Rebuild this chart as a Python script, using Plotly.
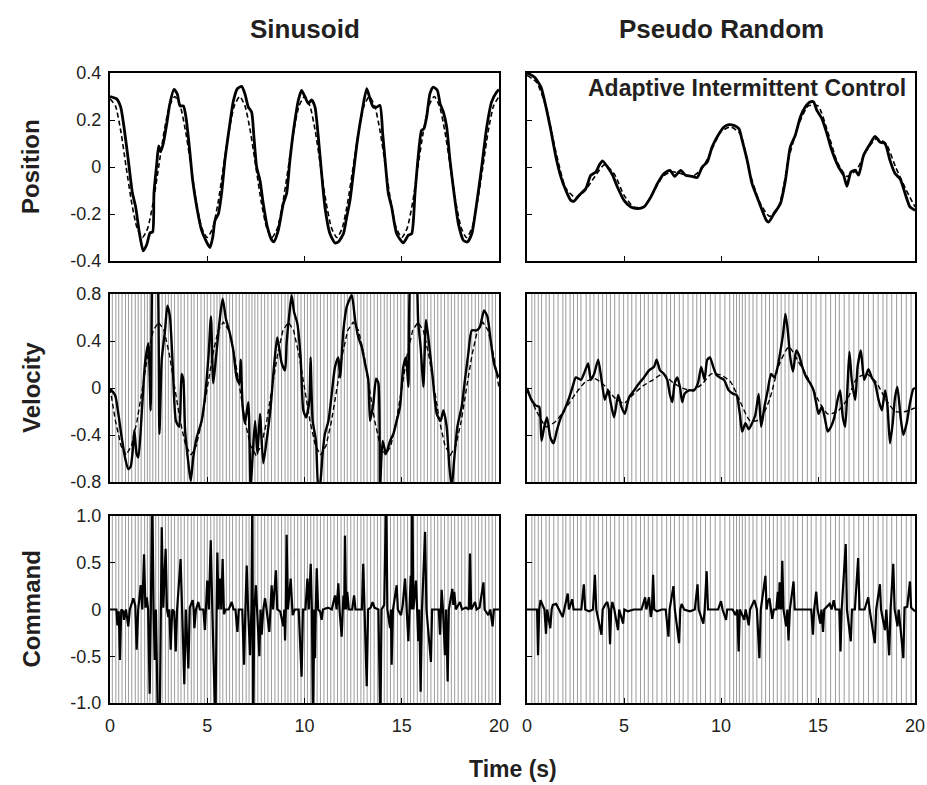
import plotly.graph_objects as go

# ---------------- DATA ----------------
time_ticks = [0, 5, 10, 15, 20]
pos_ticks = [0.4, 0.2, 0, -0.2, -0.4]
pos_ticktext = ["0.4", "0.2", "0", "-0.2", "-0.4"]
vel_ticks = [0.8, 0.4, 0, -0.4, -0.8]
vel_ticktext = ["0.8", "0.4", "0", "-0.4", "-0.8"]
cmd_ticks = [1.0, 0.5, 0, -0.5, -1.0]
cmd_ticktext = ["1.0", "0.5", "0", "-0.5", "-1.0"]

column_titles = ["Sinusoid", "Pseudo Random"]
row_titles = ["Position", "Velocity", "Command"]

# Position, sinusoid: actual (solid)
pos_sin_actual = [
    (0, 0.30), (0.34, 0.29), (0.55, 0.255), (0.72, 0.17), (0.94, 0.03), (1.15, -0.11), (1.32, -0.17),
    (1.51, -0.28), (1.71, -0.357), (1.89, -0.33), (2.06, -0.28), (2.19, -0.277), (2.26, -0.11),
    (2.40, 0.01), (2.50, 0.09), (2.60, 0.065), (2.74, 0.10), (2.91, 0.18), (3.08, 0.27), (3.29, 0.33),
    (3.46, 0.31), (3.60, 0.26), (3.77, 0.26), (3.91, 0.21), (4.08, 0.085), (4.25, -0.057), (4.46, -0.17),
    (4.71, -0.27), (4.97, -0.32), (5.14, -0.343), (5.28, -0.30), (5.40, -0.227), (5.57, -0.20),
    (5.74, -0.11), (5.91, 0.03), (6.14, 0.17), (6.34, 0.28), (6.55, 0.333), (6.77, 0.343), (6.94, 0.31),
    (7.11, 0.255), (7.28, 0.234), (7.40, 0.128), (7.54, 0.0), (7.71, -0.057), (7.88, -0.156),
    (8.09, -0.255), (8.31, -0.31), (8.43, -0.318), (8.65, -0.27), (8.91, -0.156), (9.08, -0.113),
    (9.25, 0.028), (9.46, 0.17), (9.68, 0.283), (9.85, 0.326), (10.03, 0.298), (10.2, 0.27),
    (10.37, 0.286), (10.54, 0.255), (10.71, 0.128), (10.88, -0.028), (11.05, -0.17), (11.31, -0.284),
    (11.57, -0.323), (11.74, -0.319), (12.0, -0.284), (12.17, -0.213), (12.34, -0.142), (12.51, -0.028),
    (12.72, 0.113), (12.94, 0.227), (13.2, 0.333), (13.37, 0.29), (13.54, 0.255), (13.71, 0.255),
    (13.88, 0.262), (14.02, 0.142), (14.19, -0.014), (14.31, -0.113), (14.48, -0.17), (14.74, -0.284),
    (15.08, -0.323), (15.34, -0.29), (15.51, -0.284), (15.68, -0.113), (15.86, 0.057), (16.02, 0.156),
    (16.14, 0.163), (16.28, 0.213), (16.45, 0.312), (16.62, 0.34), (16.83, 0.326), (16.97, 0.27),
    (17.14, 0.234), (17.31, 0.17), (17.48, 0.028), (17.69, -0.113), (17.91, -0.241), (18.17, -0.312),
    (18.37, -0.319), (18.6, -0.284), (18.85, -0.156), (19.11, 0.0), (19.37, 0.17), (19.62, 0.277),
    (19.88, 0.319), (20.0, 0.33),
]

# Position, sinusoid: target (dashed)
pos_sin_target = [
    (0, 0.29), (0.28, 0.26), (0.56, 0.15), (0.83, 0.0), (1.11, -0.15), (1.39, -0.26), (1.67, -0.30),
    (1.94, -0.26), (2.22, -0.15), (2.5, 0.0), (2.78, 0.15), (3.06, 0.26), (3.33, 0.30), (3.61, 0.26),
    (3.89, 0.15), (4.17, 0.0), (4.44, -0.15), (4.72, -0.26), (5.0, -0.30), (5.28, -0.26), (5.56, -0.15),
    (5.83, 0.0), (6.11, 0.15), (6.39, 0.26), (6.67, 0.30), (6.94, 0.26), (7.22, 0.15), (7.5, 0.0),
    (7.78, -0.15), (8.06, -0.26), (8.33, -0.30), (8.61, -0.26), (8.89, -0.15), (9.17, 0.0), (9.44, 0.15),
    (9.72, 0.26), (10.0, 0.30), (10.28, 0.26), (10.56, 0.15), (10.83, 0.0), (11.11, -0.15),
    (11.39, -0.26), (11.67, -0.30), (11.94, -0.26), (12.22, -0.15), (12.5, 0.0), (12.78, 0.15),
    (13.06, 0.26), (13.33, 0.30), (13.61, 0.26), (13.89, 0.15), (14.17, 0.0), (14.44, -0.15),
    (14.72, -0.26), (15.0, -0.30), (15.28, -0.26), (15.56, -0.15), (15.83, 0.0), (16.11, 0.15),
    (16.39, 0.26), (16.67, 0.30), (16.94, 0.26), (17.22, 0.15), (17.5, 0.0), (17.78, -0.15),
    (18.06, -0.26), (18.33, -0.30), (18.61, -0.26), (18.89, -0.15), (19.17, 0.0), (19.44, 0.15),
    (19.72, 0.26), (20.0, 0.30),
]

# Position, pseudo random: actual (solid)
pos_pr_actual = [
    (0, 0.40), (0.38, 0.383), (0.72, 0.34), (0.98, 0.255), (1.23, 0.156), (1.49, 0.043), (1.75, -0.043),
    (2.0, -0.099), (2.26, -0.142), (2.43, -0.145), (2.69, -0.12), (3.03, -0.092), (3.29, -0.035),
    (3.55, -0.021), (3.72, 0.007), (3.89, 0.026), (4.15, 0.0), (4.41, -0.035), (4.66, -0.085),
    (5.0, -0.142), (5.35, -0.17), (5.69, -0.177), (6.03, -0.17), (6.38, -0.128), (6.72, -0.071),
    (7.06, -0.028), (7.37, -0.014), (7.61, -0.04), (7.92, -0.014), (8.17, -0.035), (8.52, -0.04),
    (8.77, -0.045), (9.03, 0.0), (9.29, 0.021), (9.54, 0.085), (9.8, 0.128), (10.15, 0.17), (10.4, 0.18),
    (10.66, 0.177), (10.92, 0.163), (11.09, 0.113), (11.35, 0.028), (11.6, -0.071), (11.86, -0.128),
    (12.12, -0.184), (12.34, -0.227), (12.46, -0.234), (12.72, -0.2), (13.06, -0.156), (13.32, -0.057),
    (13.57, 0.085), (13.83, 0.135), (14.09, 0.213), (14.34, 0.255), (14.6, 0.277), (14.77, 0.277),
    (14.94, 0.241), (15.2, 0.206), (15.46, 0.142), (15.71, 0.071), (16.06, 0.0), (16.32, -0.035),
    (16.49, -0.082), (16.7, -0.021), (16.92, -0.014), (17.09, -0.035), (17.35, 0.05), (17.69, 0.099),
    (17.94, 0.13), (18.2, 0.106), (18.46, 0.099), (18.71, 0.028), (18.97, -0.028), (19.23, -0.05),
    (19.49, -0.113), (19.74, -0.17), (20.0, -0.184),
]

# Position, pseudo random: target (dashed)
pos_pr_target = [
    (0, 0.39), (0.5, 0.36), (1.0, 0.25), (1.5, 0.06), (2.0, -0.09), (2.5, -0.13), (3.0, -0.10),
    (3.5, -0.04), (4.0, 0.01), (4.5, -0.03), (5.0, -0.12), (5.5, -0.17), (6.0, -0.17), (6.5, -0.11),
    (7.0, -0.04), (7.5, -0.02), (8.0, -0.03), (8.5, -0.04), (9.0, -0.01), (9.5, 0.07), (10.0, 0.15),
    (10.5, 0.17), (11.0, 0.14), (11.5, -0.03), (12.0, -0.15), (12.5, -0.21), (13.0, -0.16), (13.5, 0.04),
    (14.0, 0.18), (14.5, 0.26), (15.0, 0.26), (15.5, 0.15), (16.0, 0.02), (16.5, -0.04), (17.0, -0.01),
    (17.5, 0.07), (18.0, 0.12), (18.5, 0.10), (19.0, 0.0), (19.5, -0.09), (20.0, -0.17),
]

# Velocity, sinusoid: actual (solid)
vel_sin_actual = [
    (0, -0.005), (0.26, -0.06), (0.43, -0.22), (0.6, -0.42), (0.77, -0.59), (0.94, -0.69), (1.06, -0.67),
    (1.17, -0.53), (1.25, -0.36), (1.37, -0.56), (1.46, -0.59), (1.63, -0.22), (1.8, 0.21), (1.97, 0.38),
    (2.09, -0.19), (2.19, 1.1), (2.28, 1.2), (2.43, 1.1), (2.54, -0.39), (2.66, 0.24), (2.83, 0.49),
    (2.95, 0.70), (3.08, 0.61), (3.22, 0.21), (3.39, -0.28), (3.56, -0.33), (3.68, 0.12), (3.77, 0.07),
    (3.86, -0.36), (4.03, -0.64), (4.15, -0.79), (4.28, -0.59), (4.46, -0.42), (4.71, -0.28),
    (4.88, -0.08), (5.06, 0.26), (5.19, 0.61), (5.31, 0.04), (5.45, 0.26), (5.62, 0.55), (5.79, 0.76),
    (5.96, 0.59), (6.17, 0.46), (6.34, 0.32), (6.51, 0.09), (6.65, 0.04), (6.72, 0.24), (6.82, -0.16),
    (6.94, -0.30), (7.11, -0.12), (7.23, -0.85), (7.34, -0.56), (7.46, -0.28), (7.58, -0.56),
    (7.71, -0.22), (7.88, -0.64), (8.05, -0.45), (8.26, -0.16), (8.43, 0.18), (8.6, 0.43), (8.83, 0.21),
    (9.0, 0.15), (9.08, 0.38), (9.22, 0.63), (9.34, 0.79), (9.46, 0.65), (9.63, 0.55), (9.8, 0.26),
    (9.94, -0.19), (10.08, -0.25), (10.25, -0.11), (10.31, 0.26), (10.42, -0.28), (10.59, -0.45),
    (10.71, -0.85), (10.8, -0.82), (10.93, -0.56), (11.05, -0.39), (11.23, -0.28), (11.4, -0.05),
    (11.57, 0.18), (11.74, 0.26), (11.83, 0.09), (12.0, 0.49), (12.17, 0.69), (12.43, 0.79),
    (12.6, 0.58), (12.77, 0.43), (12.94, 0.35), (13.11, 0.21), (13.28, 0.07), (13.37, -0.28),
    (13.54, -0.13), (13.68, 0.08), (13.8, 0.04), (13.88, -0.85), (14.02, -0.45), (14.19, -0.56),
    (14.4, -0.45), (14.57, -0.39), (14.74, -0.28), (14.91, -0.16), (15.08, 0.18), (15.22, 0.26),
    (15.34, 0.01), (15.51, 1.1), (15.68, 1.1), (15.85, 0.55), (15.97, 0.35), (16.11, 0.01), (16.25, 0.58),
    (16.42, 0.35), (16.59, 0.09), (16.8, -0.22), (17.0, -0.28), (17.14, -0.19), (17.31, -0.33),
    (17.45, -0.67), (17.57, -0.85), (17.69, -0.62), (17.86, -0.33), (18.08, -0.16), (18.25, 0.07),
    (18.42, 0.29), (18.6, 0.49), (18.85, 0.49), (19.02, 0.52), (19.23, 0.66), (19.4, 0.61), (19.57, 0.41),
    (19.74, 0.21), (19.97, 0.09),
]

# Velocity, sinusoid: target (dashed)
vel_sin_target = [
    (0, 0.0), (0.28, -0.28), (0.56, -0.49), (0.83, -0.57), (1.11, -0.49), (1.39, -0.28), (1.67, 0.0),
    (1.94, 0.28), (2.22, 0.49), (2.5, 0.56), (2.78, 0.49), (3.06, 0.28), (3.33, 0.0), (3.61, -0.28),
    (3.89, -0.49), (4.17, -0.57), (4.44, -0.49), (4.72, -0.28), (5.0, 0.0), (5.28, 0.28), (5.56, 0.49),
    (5.83, 0.56), (6.11, 0.49), (6.39, 0.28), (6.67, 0.0), (6.94, -0.28), (7.22, -0.49), (7.5, -0.57),
    (7.78, -0.49), (8.06, -0.28), (8.33, 0.0), (8.61, 0.28), (8.89, 0.49), (9.17, 0.56), (9.44, 0.49),
    (9.72, 0.28), (10.0, 0.0), (10.28, -0.28), (10.56, -0.49), (10.83, -0.57), (11.11, -0.49),
    (11.39, -0.28), (11.67, 0.0), (11.94, 0.28), (12.22, 0.49), (12.5, 0.56), (12.78, 0.49),
    (13.06, 0.28), (13.33, 0.0), (13.61, -0.28), (13.89, -0.49), (14.17, -0.57), (14.44, -0.49),
    (14.72, -0.28), (15.0, 0.0), (15.28, 0.28), (15.56, 0.49), (15.83, 0.56), (16.11, 0.49),
    (16.39, 0.28), (16.67, 0.0), (16.94, -0.28), (17.22, -0.49), (17.5, -0.57), (17.78, -0.49),
    (18.06, -0.28), (18.33, 0.0), (18.61, 0.28), (18.89, 0.49), (19.17, 0.56), (19.44, 0.49),
    (19.72, 0.28), (20.0, 0.0),
]

# Velocity, pseudo random: actual (solid)
vel_pr_actual = [
    (0, 0.0), (0.2, -0.09), (0.46, -0.15), (0.63, -0.16), (0.75, -0.45), (0.89, -0.33), (1.03, -0.25),
    (1.2, -0.42), (1.37, -0.47), (1.54, -0.36), (1.75, -0.25), (1.92, -0.19), (2.18, -0.08), (2.35, 0.01),
    (2.52, 0.09), (2.78, 0.07), (2.98, 0.14), (3.15, 0.21), (3.29, 0.07), (3.46, 0.12), (3.67, 0.24),
    (3.84, 0.07), (4.01, -0.1), (4.18, -0.02), (4.32, -0.13), (4.49, -0.25), (4.7, -0.06), (4.87, -0.16),
    (5.04, -0.22), (5.26, -0.08), (5.52, -0.02), (5.78, 0.04), (6.03, 0.09), (6.29, 0.15), (6.55, 0.18),
    (6.68, 0.24), (6.86, 0.15), (7.06, 0.12), (7.23, 0.07), (7.37, -0.06), (7.49, -0.12), (7.61, 0.04),
    (7.75, 0.09), (7.88, 0.01), (8.0, -0.12), (8.12, -0.05), (8.35, -0.02), (8.6, -0.02), (8.81, 0.04),
    (8.98, 0.18), (9.15, 0.07), (9.29, 0.24), (9.43, 0.26), (9.6, 0.18), (9.77, 0.11), (9.94, 0.09),
    (10.15, 0.07), (10.4, -0.02), (10.63, -0.05), (10.8, -0.06), (10.97, -0.22), (11.09, -0.37),
    (11.26, -0.30), (11.43, -0.35), (11.6, -0.30), (11.77, -0.23), (11.94, -0.05), (12.07, -0.33),
    (12.24, -0.16), (12.41, -0.02), (12.58, 0.12), (12.75, 0.09), (12.92, 0.18), (13.06, 0.31),
    (13.2, 0.46), (13.32, 0.63), (13.44, 0.49), (13.57, 0.26), (13.71, 0.14), (13.88, 0.32), (14.02, 0.28),
    (14.19, 0.18), (14.4, 0.09), (14.6, 0.04), (14.77, -0.02), (14.91, -0.13), (15.03, -0.22),
    (15.2, -0.16), (15.38, -0.28), (15.5, -0.37), (15.67, -0.33), (15.84, -0.25), (16.01, -0.1),
    (16.14, -0.02), (16.28, -0.25), (16.4, -0.33), (16.52, 0.01), (16.62, 0.31), (16.74, 0.07),
    (16.92, -0.1), (17.04, 0.18), (17.21, 0.32), (17.38, 0.07), (17.6, 0.16), (17.77, 0.09), (17.94, 0.04),
    (18.12, -0.1), (18.29, -0.19), (18.46, -0.02), (18.58, -0.15), (18.71, -0.47), (18.85, -0.30),
    (18.97, -0.08), (19.09, 0.01), (19.26, -0.25), (19.4, -0.40), (19.57, -0.30), (19.74, -0.13),
    (19.91, -0.01), (20.0, 0.0),
]

# Velocity, pseudo random: target (dashed)
vel_pr_target = [
    (0, -0.02), (0.5, -0.2), (1.0, -0.33), (1.5, -0.28), (2.0, -0.17), (2.5, -0.05), (3.0, 0.05),
    (3.5, 0.08), (4.0, 0.02), (4.5, -0.08), (5.0, -0.13), (5.5, -0.05), (6.0, 0.02), (6.5, 0.07),
    (7.0, 0.12), (7.5, 0.05), (8.0, 0.0), (8.5, -0.02), (9.0, 0.03), (9.5, 0.12), (10.0, 0.11),
    (10.5, 0.05), (11.0, -0.12), (11.5, -0.28), (12.0, -0.27), (12.5, -0.1), (13.0, 0.2), (13.5, 0.35),
    (14.0, 0.22), (14.5, 0.08), (15.0, -0.1), (15.5, -0.22), (16.0, -0.2), (16.5, -0.1), (17.0, 0.08),
    (17.5, 0.12), (18.0, 0.05), (18.5, -0.1), (19.0, -0.2), (19.5, -0.2), (20.0, -0.17),
]

# Command, sinusoid
cmd_sin = [
    (0.0, 0.0), (0.25, 0.0), (0.33, 0.0), (0.38, -0.17), (0.45, -0.02), (0.51, -0.54), (0.58, 0.0),
    (0.68, -0.02), (0.72, -0.11), (0.82, 0.0), (0.94, -0.18), (1.02, 0.0), (1.12, 0.08), (1.2, 0.12),
    (1.3, 0.04), (1.37, -0.43), (1.45, 0.0), (1.58, 0.26), (1.66, 0.0), (1.75, 0.59), (1.82, 0.02),
    (1.89, 0.13), (1.96, 0.0), (2.04, -0.9), (2.1, 0.0), (2.17, 1.3), (2.24, 0.0), (2.3, -0.54),
    (2.36, 0.0), (2.47, -1.3), (2.55, -1.3), (2.6, 0.0), (2.66, 0.88), (2.74, 0.02), (2.86, 0.65),
    (2.93, 0.0), (3.0, -0.08), (3.05, 0.0), (3.12, -0.43), (3.2, 0.0), (3.3, -0.02), (3.38, -0.45),
    (3.45, 0.0), (3.63, 0.54), (3.7, 0.0), (3.82, -0.80), (3.9, 0.0), (4.03, -0.63), (4.1, 0.02),
    (4.15, 0.05), (4.25, 0.1), (4.3, 0.0), (4.34, -0.2), (4.42, 0.0), (4.54, 0.08), (4.62, 0.0),
    (4.8, 0.0), (4.88, -0.22), (4.94, 0.0), (5.0, 0.31), (5.08, 0.0), (5.18, 0.74), (5.26, 0.0),
    (5.42, -1.3), (5.48, 0.0), (5.52, 0.61), (5.58, 0.0), (5.66, 0.33), (5.72, 0.0), (5.79, 0.54),
    (5.86, -0.05), (5.95, 0.0), (6.1, 0.0), (6.26, 0.08), (6.35, 0.0), (6.45, 0.0), (6.55, -0.24),
    (6.62, 0.0), (6.8, 0.0), (6.89, -0.59), (6.96, 0.0), (7.03, 0.47), (7.1, 0.0), (7.2, -0.49),
    (7.27, 0.0), (7.32, 1.3), (7.36, -1.3), (7.42, 0.0), (7.5, 0.26), (7.56, 0.0), (7.68, -0.5),
    (7.74, 0.0), (7.8, -0.27), (7.88, 0.0), (7.97, 0.12), (8.05, 0.0), (8.19, -0.24), (8.25, 0.0),
    (8.31, 0.26), (8.38, 0.0), (8.53, 0.42), (8.6, 0.0), (8.75, -0.02), (8.91, -0.18), (8.96, 0.0),
    (9.0, -0.33), (9.04, 0.0), (9.08, 0.80), (9.15, 0.0), (9.29, 0.33), (9.35, 0.0), (9.39, -0.06),
    (9.5, 0.0), (9.7, 0.0), (9.85, -0.72), (9.92, 0.0), (10.05, 0.0), (10.15, 0.33), (10.22, 0.0),
    (10.32, 0.49), (10.38, 0.0), (10.44, -1.3), (10.5, 0.0), (10.54, -0.52), (10.58, 0.0),
    (10.63, 0.44), (10.7, 0.0), (10.8, -0.02), (10.88, -0.11), (10.95, 0.0), (11.2, 0.02), (11.4, 0.0),
    (11.57, 0.15), (11.65, 0.0), (11.74, 0.28), (11.8, 0.0), (11.91, -0.29), (11.96, 0.0), (12.0, 0.15),
    (12.04, 0.0), (12.08, 0.79), (12.14, 0.0), (12.2, 0.19), (12.28, 0.0), (12.45, 0.0), (12.55, 0.15),
    (12.62, 0.0), (12.85, 0.0), (12.95, 0.0), (13.02, 0.49), (13.08, 0.0), (13.2, -0.82), (13.27, 0.0),
    (13.4, 0.02), (13.5, 0.08), (13.6, 0.02), (13.8, 0.0), (13.9, -1.3), (13.96, 0.0), (14.1, 0.05),
    (14.2, 1.3), (14.26, 0.0), (14.4, -0.2), (14.44, 0.0), (14.48, -0.59), (14.55, 0.0), (14.74, 0.26),
    (14.8, 0.0), (14.96, -0.06), (15.05, 0.05), (15.17, 0.33), (15.24, 0.0), (15.34, -0.34),
    (15.4, 0.0), (15.46, 0.36), (15.5, 0.0), (15.54, 1.3), (15.6, 0.0), (15.73, 0.31), (15.79, 0.0),
    (15.85, -0.34), (15.9, 0.0), (15.97, -0.88), (16.04, 0.0), (16.2, 0.83), (16.27, 0.0),
    (16.5, -0.56), (16.56, 0.0), (16.75, 0.0), (16.9, 0.0), (16.97, -0.27), (17.0, 0.0), (17.05, 0.21),
    (17.12, 0.0), (17.22, -0.49), (17.28, 0.0), (17.36, -0.77), (17.42, 0.0), (17.6, 0.22),
    (17.65, 0.05), (17.7, 0.19), (17.78, 0.0), (17.99, 0.08), (18.1, 0.0), (18.3, 0.02), (18.45, 0.0),
    (18.51, 0.60), (18.57, 0.0), (18.77, 0.08), (18.85, 0.0), (19.0, 0.02), (19.2, 0.29), (19.26, 0.0),
    (19.45, -0.06), (19.55, 0.0), (19.67, -0.18), (19.74, 0.0), (19.9, 0.0), (20.0, 0.0),
]

# Command, pseudo random
cmd_pr = [
    (0.0, 0.0), (0.3, 0.0), (0.52, 0.0), (0.57, -0.49), (0.63, 0.0), (0.7, 0.1), (0.82, 0.05),
    (0.9, 0.0), (0.98, -0.26), (1.04, 0.0), (1.2, -0.2), (1.27, 0.0), (1.33, 0.05), (1.5, 0.06),
    (1.65, 0.0), (1.84, -0.08), (1.92, 0.0), (2.1, 0.17), (2.16, 0.0), (2.33, 0.11), (2.4, 0.0),
    (2.6, 0.0), (2.8, 0.0), (2.93, 0.27), (3.0, 0.0), (3.2, -0.02), (3.4, 0.0), (3.5, 0.37), (3.57, 0.0),
    (3.84, -0.27), (3.9, 0.0), (4.05, 0.06), (4.14, 0.08), (4.22, 0.0), (4.28, -0.37), (4.34, 0.0),
    (4.4, 0.08), (4.5, 0.0), (4.69, -0.22), (4.75, 0.0), (4.95, -0.15), (5.02, 0.0), (5.2, -0.02),
    (5.5, 0.0), (5.9, 0.0), (6.09, 0.13), (6.15, 0.0), (6.29, 0.13), (6.33, 0.0), (6.38, -0.08),
    (6.44, 0.0), (6.5, 0.37), (6.56, 0.0), (6.7, -0.02), (6.95, 0.0), (7.15, 0.0), (7.29, -0.29),
    (7.35, 0.0), (7.55, 0.25), (7.62, 0.0), (7.84, -0.36), (7.9, 0.0), (7.97, 0.06), (8.1, 0.0),
    (8.4, -0.02), (8.65, 0.0), (8.79, 0.27), (8.85, 0.0), (9.09, -0.15), (9.16, 0.0), (9.26, 0.41),
    (9.33, 0.0), (9.6, 0.0), (9.85, 0.0), (10.0, 0.09), (10.08, 0.0), (10.26, -0.11), (10.32, 0.0),
    (10.6, 0.0), (10.74, -0.06), (10.84, 0.0), (10.91, -0.45), (10.97, 0.0), (11.2, -0.11),
    (11.27, 0.0), (11.43, -0.17), (11.5, 0.0), (11.72, 0.1), (11.85, 0.0), (11.98, -0.52), (12.05, 0.0),
    (12.29, 0.36), (12.35, 0.0), (12.41, 0.08), (12.5, 0.12), (12.58, 0.0), (12.64, -0.1), (12.72, 0.0),
    (12.85, 0.0), (12.93, 0.19), (12.98, 0.0), (13.02, 0.29), (13.1, 0.0), (13.16, 0.52), (13.22, 0.0),
    (13.36, -0.18), (13.42, 0.0), (13.48, -0.33), (13.55, 0.0), (13.74, 0.30), (13.8, 0.0), (14.1, 0.0),
    (14.4, 0.0), (14.65, 0.0), (14.74, -0.27), (14.8, 0.0), (14.91, 0.19), (14.98, 0.0), (15.12, -0.15),
    (15.18, 0.0), (15.26, -0.24), (15.32, 0.0), (15.6, 0.06), (15.7, 0.0), (15.81, 0.1), (15.9, 0.0),
    (16.1, 0.0), (16.16, -0.45), (16.22, 0.0), (16.43, 0.70), (16.49, 0.0), (16.69, -0.34),
    (16.75, 0.0), (16.9, 0.0), (17.07, 0.55), (17.14, 0.0), (17.4, 0.0), (17.59, 0.13), (17.66, 0.0),
    (17.93, -0.36), (18.0, 0.0), (18.19, 0.27), (18.25, 0.0), (18.45, -0.22), (18.52, 0.0),
    (18.67, -0.49), (18.74, 0.0), (18.88, 0.49), (18.95, 0.0), (19.1, -0.18), (19.16, 0.0),
    (19.4, -0.52), (19.46, 0.02), (19.6, 0.03), (19.74, 0.30), (19.8, 0.02), (19.9, 0.0), (20.0, -0.02),
]

# Intermittent control event times (grey vertical lines)
events_sin = [
    0.12, 0.3, 0.45, 0.62, 0.8, 0.95, 1.12, 1.3, 1.45, 1.6, 1.78, 1.92, 2.05, 2.2, 2.35, 2.5, 2.68, 2.85,
    3.0, 3.15, 3.32, 3.5, 3.65, 3.82, 4.0, 4.18, 4.32, 4.5, 4.68, 4.85, 5.0, 5.18, 5.35, 5.5, 5.65, 5.8,
    5.98, 6.15, 6.3, 6.48, 6.65, 6.82, 7.0, 7.15, 7.3, 7.45, 7.6, 7.78, 7.95, 8.12, 8.3, 8.48, 8.65,
    8.82, 9.0, 9.15, 9.3, 9.48, 9.65, 9.82, 10.0, 10.15, 10.32, 10.48, 10.65, 10.82, 11.0, 11.18, 11.35,
    11.52, 11.7, 11.88, 12.05, 12.2, 12.38, 12.55, 12.72, 12.9, 13.05, 13.22, 13.4, 13.58, 13.75, 13.92,
    14.1, 14.25, 14.42, 14.6, 14.78, 14.95, 15.12, 15.3, 15.45, 15.62, 15.8, 15.98, 16.15, 16.32, 16.5,
    16.68, 16.85, 17.02, 17.2, 17.38, 17.55, 17.72, 17.9, 18.08, 18.25, 18.42, 18.6, 18.78, 18.95,
    19.12, 19.3, 19.48, 19.65, 19.82,
]
events_pr = [
    0.25, 0.4, 0.58, 0.75, 0.98, 1.15, 1.38, 1.6, 1.85, 2.0, 2.22, 2.4, 2.6, 2.78, 3.05, 3.25, 3.45,
    3.68, 3.9, 4.1, 4.3, 4.52, 4.75, 4.98, 5.2, 5.4, 5.62, 5.85, 6.05, 6.25, 6.48, 6.7, 6.95, 7.2, 7.4,
    7.6, 7.85, 8.05, 8.3, 8.55, 8.75, 8.95, 9.2, 9.45, 9.7, 9.95, 10.2, 10.45, 10.65, 10.8, 10.95, 11.1,
    11.25, 11.45, 11.65, 11.85, 12.1, 12.3, 12.5, 12.7, 12.9, 13.1, 13.3, 13.5, 13.72, 13.95, 14.2,
    14.45, 14.65, 14.9, 15.15, 15.4, 15.65, 15.9, 16.1, 16.35, 16.6, 16.85, 17.1, 17.35, 17.6, 17.85,
    18.1, 18.35, 18.55, 18.8, 19.05, 19.3, 19.55, 19.8,
]

# ---------------- FIGURE ----------------
W, H = 927, 785
FONT = "Liberation Sans, Arial, sans-serif"
TXT = "#231f20"

def px_x(p):
    return p / W

def px_y(p):
    return 1 - p / H

col_dom = [[px_x(110), px_x(499)], [px_x(527), px_x(915)]]
row_dom = [[px_y(261), px_y(73)], [px_y(482), px_y(294)], [px_y(703), px_y(516)]]

fig = go.Figure()

def unzip(pairs):
    return [p[0] for p in pairs], [p[1] for p in pairs]

def add_line(pairs, ax, dashed=False, width=2.6, spline=True):
    t, v = unzip(pairs)
    line = dict(color="black", width=width)
    if dashed:
        line["dash"] = "5px,3px"
    if spline:
        line["shape"] = "spline"
        line["smoothing"] = 0.6
    fig.add_trace(go.Scatter(x=t, y=v, mode="lines", line=line,
                             xaxis="x" + ax, yaxis="y" + ax, hoverinfo="skip"))

# axis ids: rows(pos, vel, cmd) x cols(sin, pr)
ids = {(0, 0): "", (0, 1): "2", (1, 0): "3", (1, 1): "4", (2, 0): "5", (2, 1): "6"}

add_line(pos_sin_target, ids[(0, 0)], dashed=True, width=1.6)
add_line(pos_sin_actual, ids[(0, 0)], width=2.8)
add_line(pos_pr_target, ids[(0, 1)], dashed=True, width=1.6)
add_line(pos_pr_actual, ids[(0, 1)], width=2.8)
add_line(vel_sin_target, ids[(1, 0)], dashed=True, width=1.4, spline=False)
add_line(vel_sin_actual, ids[(1, 0)], width=2.4)
add_line(vel_pr_target, ids[(1, 1)], dashed=True, width=1.4)
add_line(vel_pr_actual, ids[(1, 1)], width=2.4)
add_line(cmd_sin, ids[(2, 0)], width=2.2, spline=False)
add_line(cmd_pr, ids[(2, 1)], width=2.2, spline=False)

shapes = []
for col, events in ((0, events_sin), (1, events_pr)):
    for row in (1, 2):
        a = ids[(row, col)]
        for t in events:
            shapes.append(dict(type="line", xref="x" + a, yref="y" + a + " domain",
                               x0=t, x1=t, y0=0, y1=1, layer="below",
                               line=dict(color="#9c9c9c", width=1)))

layout = dict(
    width=W, height=H, margin=dict(l=0, r=0, t=0, b=0, autoexpand=False),
    paper_bgcolor="white", plot_bgcolor="white", showlegend=False,
    shapes=shapes, font=dict(family=FONT, color=TXT),
)

yspecs = [(pos_ticks, pos_ticktext, [-0.4, 0.4]),
          (vel_ticks, vel_ticktext, [-0.8, 0.8]),
          (cmd_ticks, cmd_ticktext, [-1.0, 1.0])]

for (row, col), a in ids.items():
    xname = "xaxis" + a
    yname = "yaxis" + a
    layout[xname] = dict(
        domain=col_dom[col], anchor="y" + a, range=[0, 20], automargin=False,
        tickvals=time_ticks, ticktext=[str(v) for v in time_ticks],
        ticks="inside", ticklen=5, tickwidth=1.2, tickcolor="black",
        showline=True, mirror=True, linewidth=2.2, linecolor="black",
        showgrid=False, zeroline=False, showticklabels=(row == 2), ticklabelstandoff=5,
        tickfont=dict(family=FONT, size=18, color=TXT),
    )
    tv, tt, rng = yspecs[row]
    layout[yname] = dict(
        domain=row_dom[row], anchor="x" + a, range=rng, automargin=False,
        tickvals=tv, ticktext=tt,
        ticks="inside", ticklen=5, tickwidth=1.2, tickcolor="black",
        showline=True, mirror=True, linewidth=2.2, linecolor="black",
        showgrid=False, zeroline=False, showticklabels=(col == 0), ticklabelstandoff=3,
        tickfont=dict(family=FONT, size=18, color=TXT),
    )

ann = []
for i, title in enumerate(column_titles):
    cx = (110 + 499) / 2 if i == 0 else (527 + 915) / 2
    ann.append(dict(text="<b>%s</b>" % title, x=px_x(cx), y=px_y(29), xref="paper", yref="paper",
                    showarrow=False, xanchor="center", yanchor="middle",
                    font=dict(family=FONT, size=26, color=TXT)))
row_centers = [(73 + 261) / 2, (294 + 482) / 2, (516 + 703) / 2]
for i, title in enumerate(row_titles):
    ann.append(dict(text="<b>%s</b>" % title, x=px_x(31), y=px_y(row_centers[i]), xref="paper",
                    yref="paper", showarrow=False, textangle=-90, xanchor="center", yanchor="middle",
                    font=dict(family=FONT, size=24, color=TXT)))
ann.append(dict(text="<b>Time (s)</b>", x=px_x(513), y=px_y(769), xref="paper", yref="paper",
                showarrow=False, xanchor="center", yanchor="middle",
                font=dict(family=FONT, size=23, color=TXT)))
ann.append(dict(text="<b>Adaptive Intermittent Control</b>", x=px_x(908), y=px_y(88), xref="paper",
                yref="paper", showarrow=False, xanchor="right", yanchor="middle",
                font=dict(family=FONT, size=23, color=TXT)))
layout["annotations"] = ann

fig.update_layout(**layout)
fig.write_html("out.html", config={"displayModeBar": False},
               post_script="document.body.style.margin='0';document.body.style.overflow='hidden';")
